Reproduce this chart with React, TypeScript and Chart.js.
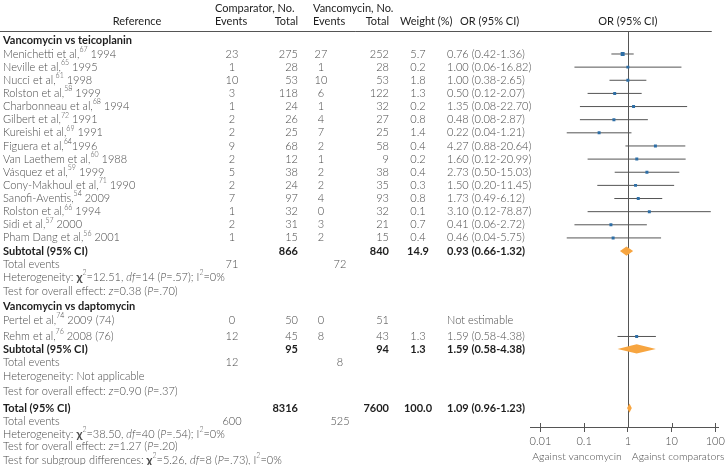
import React, { useEffect, useRef } from "react";
import { Chart, registerables } from "chart.js";
Chart.register(...registerables);

// ---------- data ----------
const teicoNames = ["Menichetti et al,", "Neville et al,", "Nucci et al,", "Rolston et al,", "Charbonneau et al,", "Gilbert et al,", "Kureishi et al,", "Figuera et al,", "Van Laethem et al,", "Vásquez et al,", "Cony-Makhoul et al,", "Sanofi-Aventis,", "Rolston et al,", "Sidi et al,", "Pham Dang et al,"];
const teicoRefs = ["67", "65", "61", "58", "68", "72", "69", "64", "60", "59", "71", "54", "66", "57", "56"];
const teicoYears = [" 1994", " 1995", " 1998", " 1999", " 1994", " 1991", " 1991", "1996", " 1988", " 1999", " 1990", " 2009", " 1994", " 2000", " 2001"];
const teicoCompEvents = [23, 1, 10, 3, 1, 2, 2, 9, 2, 5, 2, 7, 1, 2, 1];
const teicoCompTotal = [275, 28, 53, 118, 24, 26, 25, 68, 12, 38, 24, 97, 32, 31, 15];
const teicoVancEvents = [27, 1, 10, 6, 1, 4, 7, 2, 1, 2, 2, 4, 0, 3, 2];
const teicoVancTotal = [252, 28, 53, 122, 32, 27, 25, 58, 9, 38, 35, 93, 32, 21, 15];
const teicoWeight = [5.7, 0.2, 1.8, 1.3, 0.2, 0.8, 1.4, 0.4, 0.2, 0.4, 0.3, 0.8, 0.1, 0.7, 0.4];
const teicoOR = [0.76, 1.0, 1.0, 0.5, 1.35, 0.48, 0.22, 4.27, 1.6, 2.73, 1.5, 1.73, 3.1, 0.41, 0.46];
const teicoLow = [0.42, 0.06, 0.38, 0.12, 0.08, 0.08, 0.04, 0.88, 0.12, 0.5, 0.2, 0.49, 0.12, 0.06, 0.04];
const teicoHigh = [1.36, 16.82, 2.65, 2.07, 22.7, 2.87, 1.21, 20.64, 20.99, 15.03, 11.45, 6.12, 78.87, 2.72, 5.75];

const daptoNames = ["Pertel et al,", "Rehm et al,"];
const daptoRefs = ["74", "76"];
const daptoYears = [" 2009 (74)", " 2008 (76)"];
const daptoCompEvents = [0, 12];
const daptoCompTotal = [50, 45];
const daptoVancEvents = [0, 8];
const daptoVancTotal = [51, 43];
const daptoWeight: (number | null)[] = [null, 1.3];
const daptoOR: (number | null)[] = [null, 1.59];
const daptoLow: (number | null)[] = [null, 0.58];
const daptoHigh: (number | null)[] = [null, 4.38];

const summaryLabels = ["Subtotal (95% CI)", "Subtotal (95% CI)", "Total (95% CI)"];
const summaryCompTotal = [866, 95, 8316];
const summaryVancTotal = [840, 94, 7600];
const summaryWeight = [14.9, 1.3, 100.0];
const summaryOR = [0.93, 1.59, 1.09];
const summaryLow = [0.66, 0.58, 0.96];
const summaryHigh = [1.32, 4.38, 1.23];
const totalCompEvents = [71, 12, 600];
const totalVancEvents = [72, 8, 525];

const sectionTitles = ["Vancomycin vs teicoplanin", "Vancomycin vs daptomycin"];

type Seg = [string, string];
const hetTexts: Seg[][] = [
  [["Heterogeneity: ", "n"], ["χ", "chi"], ["2", "sup"], ["=12.51, ", "n"], ["df", "i"], ["=14 (", "n"], ["P", "i"], ["=.57); ", "n"], ["I", "n"], ["2", "sup"], ["=0%", "n"]],
  [["Heterogeneity: Not applicable", "n"]],
  [["Heterogeneity: ", "n"], ["χ", "chi"], ["2", "sup"], ["=38.50, ", "n"], ["df", "i"], ["=40 (", "n"], ["P", "i"], ["=.54); ", "n"], ["I", "n"], ["2", "sup"], ["=0%", "n"]],
];
const testTexts: Seg[][] = [
  [["Test for overall effect: ", "n"], ["z", "i"], ["=0.38 (", "n"], ["P", "i"], ["=.70)", "n"]],
  [["Test for overall effect: ", "n"], ["z", "i"], ["=0.90 (", "n"], ["P", "i"], ["=.37)", "n"]],
  [["Test for overall effect: ", "n"], ["z", "i"], ["=1.27 (", "n"], ["P", "i"], ["=.20)", "n"]],
];
const subgroupText: Seg[] = [["Test for subgroup differences: ", "n"], ["χ", "chi"], ["2", "sup"], ["=5.26, ", "n"], ["df", "i"], ["=8 (", "n"], ["P", "i"], ["=.73), ", "n"], ["I", "n"], ["2", "sup"], ["=0%", "n"]];

const xTicks = [0.01, 0.1, 1, 10, 100];
const xTickLabels = ["0.01", "0.1", "1", "10", "100"];

// ---------- layout (row slots) ----------
const SLOT = {
  head1: -3.5, head2: -2.51, sec1: -1.05,
  sub: [15, 22.45, 26.95], te: [16, 23.45, 27.93], het: [17, 24.55, 28.92], test: [18.1, 25.7, 29.9],
  sec2: 19.2, dapto: [20.25, 21.5], subgroup: 30.9,
};
const Y_MIN = -1.75;
const Y_MAX = 28.39;

const FONT = "Lato, 'Open Sans', sans-serif";
const GREY_TXT = "#4a4a4a";
const DARK_TXT = "#1e1e1e";
const LINE = "#555555";
const BLUE = "#2d6ea6";
const ORANGE = "#f7a540";

const COL = { label: 3, compEv: 232, compTot: 298, vancEv: 321, vancEvTot: 340, vancTot: 389, weight: 418, orTxt: 447 };

function orText(e: number, l: number, h: number) {
  return `${e.toFixed(2)} (${l.toFixed(2)}-${h.toFixed(2)})`;
}

function drawRich(ctx: CanvasRenderingContext2D, segs: Seg[], x: number, y: number, size: number, weight: string) {
  let cx = x;
  for (const [t, s] of segs) {
    let font = `${weight} ${size}px ${FONT}`;
    let dy = 0;
    if (s === "i") font = `italic ${weight} ${size}px ${FONT}`;
    if (s === "sup") { font = `${weight} ${Math.round(size * 0.65)}px ${FONT}`; dy = -size * 0.4; }
    if (s === "chi") font = `bold ${size + 1}px ${FONT}`;
    ctx.font = font;
    ctx.fillText(t, cx, y + dy);
    cx += ctx.measureText(t).width;
  }
}

function txt(ctx: CanvasRenderingContext2D, s: string, x: number, y: number, align: CanvasTextAlign) {
  ctx.textAlign = align;
  ctx.fillText(s, x, y);
}

const forestPlugin = {
  id: "forest",
  beforeDatasetsDraw(chart: any) {
    const { ctx, chartArea, scales } = chart;
    const x1 = Math.round(scales.x.getPixelForValue(1)) + 0.5;
    ctx.save();
    ctx.strokeStyle = LINE;
    ctx.lineWidth = 1;
    ctx.beginPath();
    ctx.moveTo(x1, chartArea.top);
    ctx.lineTo(x1, chartArea.bottom);
    // header rule
    ctx.moveTo(0, Math.round(chartArea.top) + 0.5);
    ctx.lineTo(chartArea.right - 7, Math.round(chartArea.top) + 0.5);
    // upper half of axis ticks
    for (const v of xTicks) {
      const px = Math.round(scales.x.getPixelForValue(v)) + 0.5;
      ctx.moveTo(px, chartArea.bottom - 4);
      ctx.lineTo(px, chartArea.bottom);
    }
    ctx.stroke();
    ctx.restore();
  },
  afterDatasetsDraw(chart: any) {
    const { ctx, scales } = chart;
    ctx.save();
    ctx.fillStyle = ORANGE;
    for (let i = 0; i < summaryOR.length; i++) {
      const y = scales.y.getPixelForValue(SLOT.sub[i]);
      const xl = scales.x.getPixelForValue(summaryLow[i]);
      const xe = scales.x.getPixelForValue(summaryOR[i]);
      const xh = scales.x.getPixelForValue(summaryHigh[i]);
      const hh = 4.6;
      ctx.beginPath();
      ctx.moveTo(xl, y);
      ctx.lineTo(xe, y - hh);
      ctx.lineTo(xh, y);
      ctx.lineTo(xe, y + hh);
      ctx.closePath();
      ctx.fill();
    }
    ctx.restore();
  },
  afterDraw(chart: any) {
    const { ctx, scales } = chart;
    const Y = (s: number) => scales.y.getPixelForValue(s);
    ctx.save();
    ctx.textBaseline = "middle";

    // headers
    ctx.fillStyle = DARK_TXT;
    ctx.font = `400 11px ${FONT}`;
    txt(ctx, "Comparator, No.", 215, Y(SLOT.head1), "left");
    txt(ctx, "Vancomycin, No.", 313, Y(SLOT.head1), "left");
    txt(ctx, "Reference", 137, Y(SLOT.head2), "center");
    txt(ctx, "Events", 215, Y(SLOT.head2), "left");
    txt(ctx, "Total", COL.compTot, Y(SLOT.head2), "right");
    txt(ctx, "Events", 313, Y(SLOT.head2), "left");
    txt(ctx, "Total", COL.vancTot, Y(SLOT.head2), "right");
    txt(ctx, "Weight (%)", 400, Y(SLOT.head2), "left");
    txt(ctx, "OR (95% CI)", 460, Y(SLOT.head2), "left");
    txt(ctx, "OR (95% CI)", scales.x.getPixelForValue(1), Y(SLOT.head2), "center");

    // section titles
    ctx.font = `bold 11px ${FONT}`;
    txt(ctx, sectionTitles[0], COL.label, Y(SLOT.sec1), "left");
    txt(ctx, sectionTitles[1], COL.label, Y(SLOT.sec2), "left");

    const studyRow = (y: number, name: string, ref: string, year: string, ce: number, ct: number, ve: number, vt: number, w: number | null, e: number | null, l: number | null, h: number | null) => {
      ctx.fillStyle = GREY_TXT;
      ctx.textAlign = "left";
      drawRich(ctx, [[name, "n"], [ref, "sup"], [year, "n"]], COL.label, y, 11, "300");
      ctx.font = `300 11px ${FONT}`;
      txt(ctx, String(ce), COL.compEv, y, "center");
      txt(ctx, String(ct), COL.compTot, y, "right");
      txt(ctx, String(ve), COL.vancEv, y, "center");
      txt(ctx, String(vt), COL.vancTot, y, "right");
      if (w !== null) txt(ctx, w.toFixed(1), COL.weight, y, "center");
      if (e !== null && l !== null && h !== null) txt(ctx, orText(e, l, h), COL.orTxt, y, "left");
      else txt(ctx, "Not estimable", COL.orTxt, y, "left");
    };

    for (let i = 0; i < teicoNames.length; i++) {
      studyRow(Y(i), teicoNames[i], teicoRefs[i], teicoYears[i], teicoCompEvents[i], teicoCompTotal[i], teicoVancEvents[i], teicoVancTotal[i], teicoWeight[i], teicoOR[i], teicoLow[i], teicoHigh[i]);
    }
    for (let i = 0; i < daptoNames.length; i++) {
      studyRow(Y(SLOT.dapto[i]), daptoNames[i], daptoRefs[i], daptoYears[i], daptoCompEvents[i], daptoCompTotal[i], daptoVancEvents[i], daptoVancTotal[i], daptoWeight[i], daptoOR[i], daptoLow[i], daptoHigh[i]);
    }

    for (let i = 0; i < summaryLabels.length; i++) {
      const y = Y(SLOT.sub[i]);
      ctx.fillStyle = DARK_TXT;
      ctx.font = `bold 11px ${FONT}`;
      txt(ctx, summaryLabels[i], COL.label, y, "left");
      txt(ctx, String(summaryCompTotal[i]), COL.compTot, y, "right");
      txt(ctx, String(summaryVancTotal[i]), COL.vancTot, y, "right");
      txt(ctx, summaryWeight[i].toFixed(1), COL.weight, y, "center");
      txt(ctx, orText(summaryOR[i], summaryLow[i], summaryHigh[i]), COL.orTxt, y, "left");

      ctx.fillStyle = GREY_TXT;
      ctx.font = `300 11px ${FONT}`;
      const yt = Y(SLOT.te[i]);
      txt(ctx, "Total events", COL.label, yt, "left");
      txt(ctx, String(totalCompEvents[i]), COL.compEv, yt, "center");
      txt(ctx, String(totalVancEvents[i]), COL.vancEvTot, yt, "center");
      ctx.textAlign = "left";
      drawRich(ctx, hetTexts[i], COL.label, Y(SLOT.het[i]), 11, "300");
      drawRich(ctx, testTexts[i], COL.label, Y(SLOT.test[i]), 11, "300");
    }
    ctx.textAlign = "left";
    drawRich(ctx, subgroupText, COL.label, Y(SLOT.subgroup), 11, "300");

    // direction labels
    ctx.fillStyle = GREY_TXT;
    ctx.font = `300 10.5px ${FONT}`;
    const x1 = scales.x.getPixelForValue(1);
    const yb = chart.chartArea.bottom + 30;
    txt(ctx, "Against vancomycin", x1 - 6, yb, "right");
    txt(ctx, "Against comparators", x1 + 4, yb, "left");
    ctx.restore();
  },
};

export default function App() {
  const ref = useRef<HTMLCanvasElement>(null);
  useEffect(() => {
    document.body.style.margin = "0";
    const canvas = ref.current!;

    const ciData = [
      ...teicoOR.map((e, i) => ({ lo: teicoLow[i], hi: teicoHigh[i], s: i })),
      ...daptoOR.map((e, i) => ({ lo: daptoLow[i], hi: daptoHigh[i], s: SLOT.dapto[i] })).filter((d) => d.lo !== null),
    ];
    const ciSets = ciData.map((d) => ({
      data: [{ x: d.lo as number, y: d.s }, { x: d.hi as number, y: d.s }],
      showLine: true,
      borderColor: LINE,
      borderWidth: 1,
      pointRadius: 0,
      order: 2,
    }));
    const pointData = [
      ...teicoOR.map((e, i) => ({ x: e, y: i, w: teicoWeight[i] })),
      ...daptoOR.map((e, i) => ({ x: e, y: SLOT.dapto[i], w: daptoWeight[i] })).filter((d) => d.x !== null),
    ];
    const pointSet = {
      data: pointData.map((p) => ({ x: p.x as number, y: p.y })),
      pointStyle: "rect",
      pointRadius: pointData.map((p) => ((p.w as number) >= 5 ? 2.8 : 2.1)),
      backgroundColor: BLUE,
      borderWidth: 0,
      showLine: false,
      order: 0,
    };

    const chart = new Chart(canvas, {
      type: "scatter",
      data: { datasets: [pointSet, ...ciSets] as any },
      options: {
        animation: false,
        responsive: false,
        devicePixelRatio: 1,
        events: [],
        layout: { padding: { left: 530, right: 8, top: 31, bottom: 0 } },
        plugins: { legend: { display: false }, tooltip: { enabled: false }, title: { display: false } },
        scales: {
          x: {
            type: "logarithmic",
            min: Math.pow(10, -2.2386),
            max: Math.pow(10, 2.0795),
            bounds: "data",
            afterBuildTicks: (scale: any) => {
              scale.ticks = xTicks.map((v) => ({ value: v }));
            },
            afterFit: (scale: any) => {
              scale.height = 38;
            },
            grid: { drawOnChartArea: false, drawTicks: true, tickLength: 5, color: LINE, lineWidth: 1 },
            border: { display: true, color: LINE, width: 1 },
            ticks: {
              autoSkip: false,
              maxRotation: 0,
              padding: 3,
              color: GREY_TXT,
              font: { family: FONT, size: 11, weight: "300" as any },
              callback: (v: any) => {
                const k = xTicks.findIndex((t) => Math.abs(t - Number(v)) < 1e-9);
                return k >= 0 ? xTickLabels[k] : "";
              },
            },
          },
          y: {
            type: "linear",
            display: false,
            reverse: true,
            min: Y_MIN,
            max: Y_MAX,
          },
        },
      } as any,
      plugins: [forestPlugin],
    });
    return () => chart.destroy();
  }, []);
  return (
    <div style={{ width: 728, height: 465, position: "relative", background: "#fff", overflow: "hidden" }}>
      <canvas ref={ref} width={728} height={465} style={{ display: "block" }} />
    </div>
  );
}
